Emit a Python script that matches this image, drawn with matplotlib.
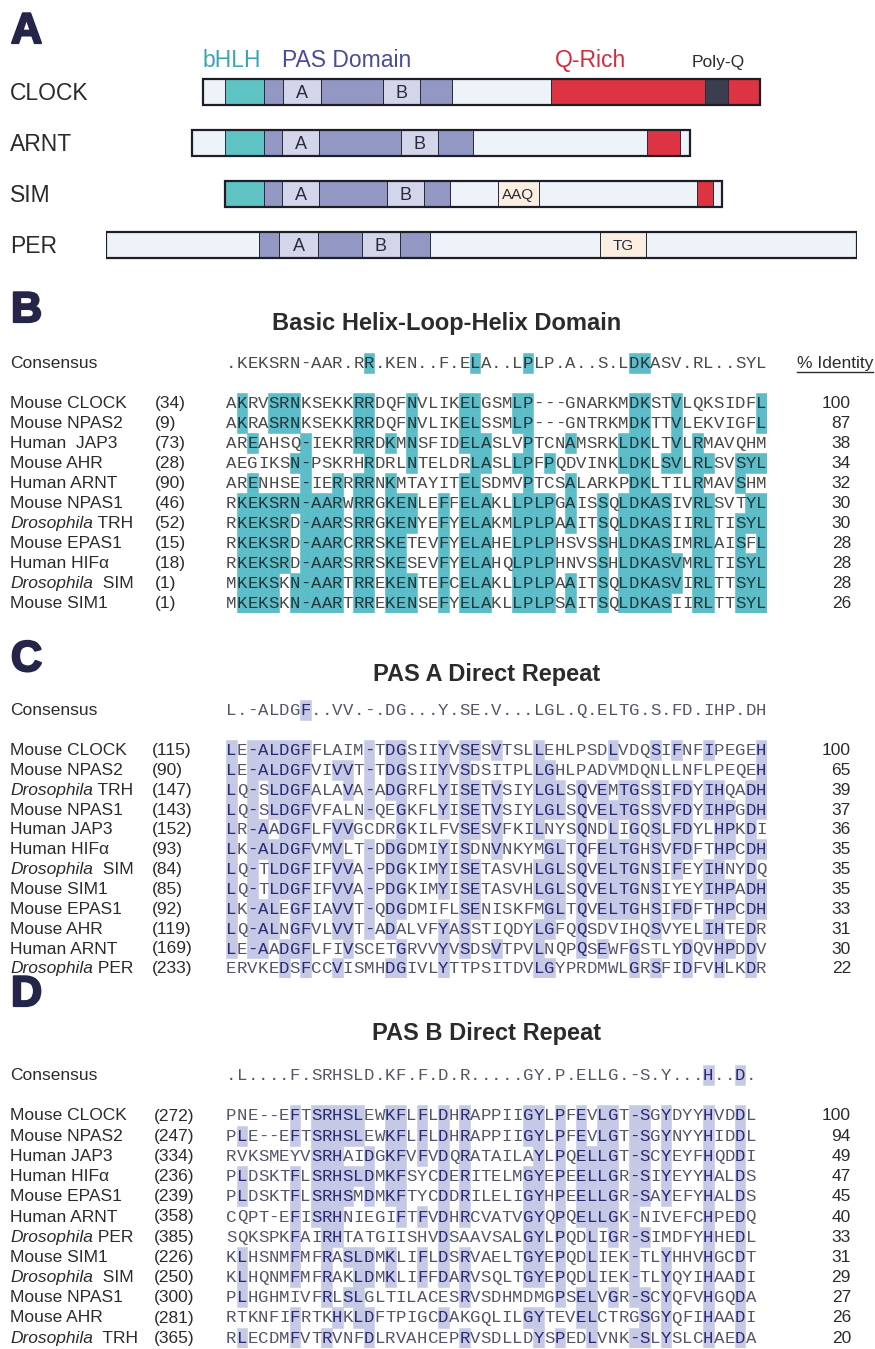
import matplotlib
matplotlib.use('Agg')
import matplotlib.pyplot as plt
from matplotlib.patches import Rectangle
from matplotlib.lines import Line2D
import matplotlib.transforms as mtransforms
import matplotlib.patheffects as pe

# ------------------------------------------------------------------ data
# Panel A: schematic domain maps (schematic length units, boundaries per protein)
proteins_A = ['CLOCK', 'ARNT', 'SIM', 'PER']
clock_edges = [97, 119, 158, 177, 215, 277, 314, 346, 445, 599, 622, 654]
clock_kinds = ['other', 'bhlh', 'pas', 'A', 'pas', 'B', 'pas', 'other', 'q', 'polyq', 'q']
arnt_edges = [86, 119, 158, 176, 213, 295, 332, 367, 541, 574, 584]
arnt_kinds = ['other', 'bhlh', 'pas', 'A', 'pas', 'B', 'pas', 'other', 'q', 'other']
sim_edges = [119, 158, 176, 213, 281, 318, 344, 392, 433, 591, 607, 616]
sim_kinds = ['bhlh', 'pas', 'A', 'pas', 'B', 'pas', 'other', 'AAQ', 'other', 'q', 'other']
per_edges = [0, 153, 173, 212, 256, 294, 324, 494, 540, 751]
per_kinds = ['other', 'pas', 'A', 'pas', 'B', 'pas', 'other', 'TG', 'other']

# Panel B: basic helix-loop-helix
bhlh_consensus = ".KEKSRN-AAR.RR.KEN..F.ELA..LPLP.A..S.LDKASV.RL..SYL"
bhlh_species = [('', 'Mouse CLOCK'), ('', 'Mouse NPAS2'), ('', 'Human  JAP3'), ('', 'Mouse AHR'),
                ('', 'Human ARNT'), ('', 'Mouse NPAS1'), ('Drosophila', ' TRH'), ('', 'Mouse EPAS1'),
                ('', 'Human HIF\u03b1'), ('Drosophila', '  SIM'), ('', 'Mouse SIM1')]
bhlh_start = [34, 9, 73, 28, 90, 46, 52, 15, 18, 1, 1]
bhlh_seqs = [
    "AKRVSRNKSEKKRRDQFNVLIKELGSMLP---GNARKMDKSTVLQKSIDFL",
    "AKRASRNKSEKKRRDQFNVLIKELSSMLP---GNTRKMDKTTVLEKVIGFL",
    "AREAHSQ-IEKRRRDKMNSFIDELASLVPTCNAMSRKLDKLTVLRMAVQHM",
    "AEGIKSN-PSKRHRDRLNTELDRLASLLPFPQDVINKLDKLSVLRLSVSYL",
    "ARENHSE-IERRRRNKMTAYITELSDMVPTCSALARKPDKLTILRMAVSHM",
    "RKEKSRN-AARWRRGKENLEFFELAKLLPLPGAISSQLDKASIVRLSVTYL",
    "RKEKSRD-AARSRRGKENYEFYELAKMLPLPAAITSQLDKASIIRLTISYL",
    "RKEKSRD-AARCRRSKETEVFYELAHELPLPHSVSSHLDKASIMRLAISFL",
    "RKEKSRD-AARSRRSKESEVFYELAHQLPLPHNVSSHLDKASVMRLTISYL",
    "MKEKSKN-AARTRREKENTEFCELAKLLPLPAAITSQLDKASVIRLTTSYL",
    "MKEKSKN-AARTRREKENSEFYELAKLLPLPSAITSQLDKASIIRLTTSYL",
]
bhlh_identity = [100, 87, 38, 34, 32, 30, 30, 28, 28, 28, 26]

# Panel C: PAS A direct repeat
pasa_consensus = "L.-ALDGF..VV.-.DG...Y.SE.V...LGL.Q.ELTG.S.FD.IHP.DH"
pasa_species = [('', 'Mouse CLOCK'), ('', 'Mouse NPAS2'), ('Drosophila', ' TRH'), ('', 'Mouse NPAS1'),
                ('', 'Human JAP3'), ('', 'Human HIF\u03b1'), ('Drosophila', '  SIM'), ('', 'Mouse SIM1'),
                ('', 'Mouse EPAS1'), ('', 'Mouse AHR'), ('', 'Human ARNT'), ('Drosophila', ' PER')]
pasa_start = [115, 90, 147, 143, 152, 93, 84, 85, 92, 119, 169, 233]
pasa_seqs = [
    "LE-ALDGFFLAIM-TDGSIIYVSESVTSLLEHLPSDLVDQSIFNFIPEGEH",
    "LE-ALDGFVIVVT-TDGSIIYVSDSITPLLGHLPADVMDQNLLNFLPEQEH",
    "LQ-SLDGFALAVA-ADGRFLYISETVSIYLGLSQVEMTGSSIFDYIHQADH",
    "LQ-SLDGFVFALN-QEGKFLYISETVSIYLGLSQVELTGSSVFDYIHPGDH",
    "LR-AADGFLFVVGCDRGKILFVSESVFKILNYSQNDLIGQSLFDYLHPKDI",
    "LK-ALDGFVMVLT-DDGDMIYISDNVNKYMGLTQFELTGHSVFDFTHPCDH",
    "LQ-TLDGFIFVVA-PDGKIMYISETASVHLGLSQVELTGNSIFEYIHNYDQ",
    "LQ-TLDGFIFVVA-PDGKIMYISETASVHLGLSQVELTGNSIYEYIHPADH",
    "LK-ALEGFIAVVT-QDGDMIFLSENISKFMGLTQVELTGHSIFDFTHPCDH",
    "LQ-ALNGFVLVVT-ADALVFYASSTIQDYLGFQQSDVIHQSVYELIHTEDR",
    "LE-AADGFLFIVSCETGRVVYVSDSVTPVLNQPQSEWFGSTLYDQVHPDDV",
    "ERVKEDSFCCVISMHDGIVLYTTPSITDVLGYPRDMWLGRSFIDFVHLKDR",
]
pasa_identity = [100, 65, 39, 37, 36, 35, 35, 35, 33, 31, 30, 22]

# Panel D: PAS B direct repeat
pasb_consensus = ".L....F.SRHSLD.KF.F.D.R.....GY.P.ELLG.-S.Y...H..D."
pasb_species = [('', 'Mouse CLOCK'), ('', 'Mouse NPAS2'), ('', 'Human JAP3'), ('', 'Human HIF\u03b1'),
                ('', 'Mouse EPAS1'), ('', 'Human ARNT'), ('Drosophila', ' PER'), ('', 'Mouse SIM1'),
                ('Drosophila', '  SIM'), ('', 'Mouse NPAS1'), ('', 'Mouse AHR'), ('Drosophila', '  TRH')]
pasb_start = [272, 247, 334, 236, 239, 358, 385, 226, 250, 300, 281, 365]
pasb_seqs = [
    "PNE--EFTSRHSLEWKFLFLDHRAPPIIGYLPFEVLGT-SGYDYYHVDDL",
    "PLE--EFTSRHSLEWKFLFLDHRAPPIIGYLPFEVLGT-SGYNYYHIDDL",
    "RVKSMEYVSRHAIDGKFVFVDQRATAILAYLPQELLGT-SCYEYFHQDDI",
    "PLDSKTFLSRHSLDMKFSYCDERITELMGYEPEELLGR-SIYEYYHALDS",
    "PLDSKTFLSRHSMDMKFTYCDDRILELIGYHPEELLGR-SAYEFYHALDS",
    "CQPT-EFISRHNIEGIFTFVDHRCVATVGYQPQELLGK-NIVEFCHPEDQ",
    "SQKSPKFAIRHTATGIISHVDSAAVSALGYLPQDLIGR-SIMDFYHHEDL",
    "KLHSNMFMFRASLDMKLIFLDSRVAELTGYEPQDLIEK-TLYHHVHGCDT",
    "KLHQNMFMFRAKLDMKLIFFDARVSQLTGYEPQDLIEK-TLYQYIHAADI",
    "PLHGHMIVFRLSLGLTILACESRVSDHMDMGPSELVGR-SCYQFVHGQDA",
    "RTKNFIFRTKHKLDFTPIGCDAKGQLILGYTEVELCTRGSGYQFIHAADI",
    "RLECDMFVTRVNFDLRVAHCEPRVSDLLDYSPEDLVNK-SLYSLCHAEDA",
]
pasb_identity = [100, 94, 49, 47, 45, 40, 33, 31, 29, 27, 26, 20]

# ------------------------------------------------------------------ style
W, H = 875, 1349
SANS = ['Liberation Sans', 'DejaVu Sans']
MONO = ['Liberation Mono', 'DejaVu Sans Mono']
LETTER_C = '#25254a'
TXT = '#2b2b2b'
KIND_COL = {'other': '#eef3fa', 'bhlh': '#5fc3c4', 'pas': '#9397c3', 'A': '#d3d5ea',
            'B': '#d3d5ea', 'q': '#de3342', 'polyq': '#3b3d50', 'AAQ': '#fcefe2', 'TG': '#fcefe2'}
SEQ_X0, CHAR_W = 226, 10.6
SEQ_FS = 12.5
LAB_FS = 12.5

fig = plt.figure(figsize=(W / 100, H / 100), dpi=100)
fig.patch.set_facecolor('white')
renderer = fig.canvas.get_renderer()


def fx(px):
    return px / W


def fy(py):
    return 1 - py / H


# ------------------------------------------------------------------ panel letters & titles
for letter, top in [('A', 12), ('B', 291), ('C', 640), ('D', 975)]:
    fig.text(fx(11), fy(top), letter, family=SANS, fontsize=31, fontweight='bold',
             color=LETTER_C, ha='left', va='top',
             path_effects=[pe.withStroke(linewidth=1.6, foreground=LETTER_C)])

for title, cx, base in [('Basic Helix-Loop-Helix Domain', 447, 330),
                        ('PAS A Direct Repeat', 487, 681),
                        ('PAS B Direct Repeat', 487, 1040)]:
    fig.text(fx(cx), fy(base), title, family=SANS, fontsize=17, fontweight='bold',
             color=TXT, ha='center', va='baseline')

# ------------------------------------------------------------------ panel A
A_X0 = 106          # figure px of schematic unit 0
A_ROW0, A_STEP = 92, 51
axA = fig.add_axes([fx(A_X0), fy(A_ROW0 + 3.5 * A_STEP), 751 / W, 4.5 * A_STEP / H])
axA.set_xlim(0, 751)
axA.set_ylim(3.5, -1.0)
axA.axis('off')
blendA = mtransforms.blended_transform_factory(fig.transFigure, axA.transData)

bar_h = 26 / A_STEP
edges_all = [clock_edges, arnt_edges, sim_edges, per_edges]
kinds_all = [clock_kinds, arnt_kinds, sim_kinds, per_kinds]
for r, (name, edges, kinds) in enumerate(zip(proteins_A, edges_all, kinds_all)):
    axA.text(fx(10), r + 8 / A_STEP, name, transform=blendA, family=SANS, fontsize=16.5,
             color=TXT, ha='left', va='baseline')
    for k, kind in enumerate(kinds):
        x0, x1 = edges[k], edges[k + 1]
        axA.add_patch(Rectangle((x0, r - bar_h / 2), x1 - x0, bar_h, facecolor=KIND_COL[kind],
                                edgecolor='#2a2a35', linewidth=0.7))
        if kind in ('A', 'B'):
            axA.text((x0 + x1) / 2, r + 0.02, kind, family=SANS, fontsize=13, color='#2a2a3a',
                     ha='center', va='center')
        elif kind in ('AAQ', 'TG'):
            axA.text((x0 + x1) / 2, r + 0.02, kind, family=SANS, fontsize=11, color='#2a2a3a',
                     ha='center', va='center')
    axA.add_patch(Rectangle((edges[0], r - bar_h / 2), edges[-1] - edges[0], bar_h,
                            facecolor='none', edgecolor='#1e1e28', linewidth=1.6))

hdr_y = (67 - A_ROW0) / A_STEP
for lab, px, col, fs in [('bHLH', 203, '#3aa6b4', 16.5), ('PAS Domain', 282, '#4b4b9c', 16.5),
                         ('Q-Rich', 555, '#d6293a', 16.5), ('Poly-Q', 692, '#2b2b2b', 12.5)]:
    axA.text(fx(px), hdr_y, lab, transform=blendA, family=SANS, fontsize=fs, color=col,
             ha='left', va='baseline')


# ------------------------------------------------------------------ alignment panels
def draw_alignment(y_first, step, species, starts, seqs, ident, consensus, shade,
                   col_on, col_off, num_px, pct_header=False):
    n = len(seqs)
    ncol = len(consensus)
    top_px = y_first - 2.5 * step
    bot_px = y_first + (n - 0.5) * step
    ax = fig.add_axes([fx(SEQ_X0), fy(bot_px), ncol * CHAR_W / W, (bot_px - top_px) / H])
    ax.set_xlim(-0.5, ncol - 0.5)
    ax.set_ylim(n - 0.5, -2.5)
    ax.axis('off')
    blend = mtransforms.blended_transform_factory(fig.transFigure, ax.transData)
    base_off = 5.0 / step

    # consensus row
    cy = -2
    ax.text(fx(10), cy + base_off, 'Consensus', transform=blend, family=SANS,
            fontsize=LAB_FS, color=TXT, ha='left', va='baseline')
    for c, ch in enumerate(consensus):
        conserved = ch != '.' and all(s[c] == ch for s in seqs)
        if conserved:
            ax.add_patch(Rectangle((c - 0.5, cy - 0.5), 1, 1, facecolor=shade, edgecolor=shade,
                                   linewidth=0.4))
        ax.text(c, cy + base_off, ch, family=MONO, fontsize=SEQ_FS,
                color=col_on if conserved else col_off, ha='center', va='baseline')
    if pct_header:
        t = ax.text(fx(873), cy + base_off, '% Identity', transform=blend, family=SANS,
                    fontsize=LAB_FS, color=TXT, ha='right', va='baseline')
        bb = t.get_window_extent(renderer=renderer)
        uy = bb.y0 - 1.5
        fig.add_artist(Line2D([bb.x0 / W, bb.x1 / W], [uy / H, uy / H], color=TXT,
                              linewidth=1.0, transform=fig.transFigure))

    # shading
    for r, seq in enumerate(seqs):
        for c, ch in enumerate(seq):
            if consensus[c] != '.' and ch == consensus[c]:
                ax.add_patch(Rectangle((c - 0.5, r - 0.5), 1, 1, facecolor=shade,
                                       edgecolor=shade, linewidth=0.4))
    # letters and labels
    for r, seq in enumerate(seqs):
        for c, ch in enumerate(seq):
            on = consensus[c] != '.' and ch == consensus[c]
            ax.text(c, r + base_off, ch, family=MONO, fontsize=SEQ_FS,
                    color=col_on if on else col_off, ha='center', va='baseline')
        ital, rest = species[r]
        xpos = 10
        if ital:
            t = ax.text(fx(xpos), r + base_off, ital, transform=blend, family=SANS,
                        style='italic', fontsize=LAB_FS, color=TXT, ha='left', va='baseline')
            bb = t.get_window_extent(renderer=renderer)
            xpos = bb.x1
        ax.text(fx(xpos), r + base_off, rest, transform=blend, family=SANS,
                fontsize=LAB_FS, color=TXT, ha='left', va='baseline')
        ax.text(fx(num_px), r + base_off, '(%d)' % starts[r], transform=blend, family=SANS,
                fontsize=LAB_FS, color=TXT, ha='left', va='baseline')
        ax.text(fx(851), r + base_off, str(ident[r]), transform=blend, family=SANS,
                fontsize=LAB_FS, color=TXT, ha='right', va='baseline')
    return ax


draw_alignment(402.5, 20.0, bhlh_species, bhlh_start, bhlh_seqs, bhlh_identity,
               bhlh_consensus, '#5cbcc7', '#22383d', '#4a4a4a', 155, pct_header=True)
draw_alignment(750.0, 19.85, pasa_species, pasa_start, pasa_seqs, pasa_identity,
               pasa_consensus, '#c6c9e6', '#2a2a6e', '#55566a', 152)
draw_alignment(1115.5, 20.2, pasb_species, pasb_start, pasb_seqs, pasb_identity,
               pasb_consensus, '#c6c9e6', '#2a2a6e', '#55566a', 154)

fig.savefig('out.png', dpi=100, facecolor='white')
